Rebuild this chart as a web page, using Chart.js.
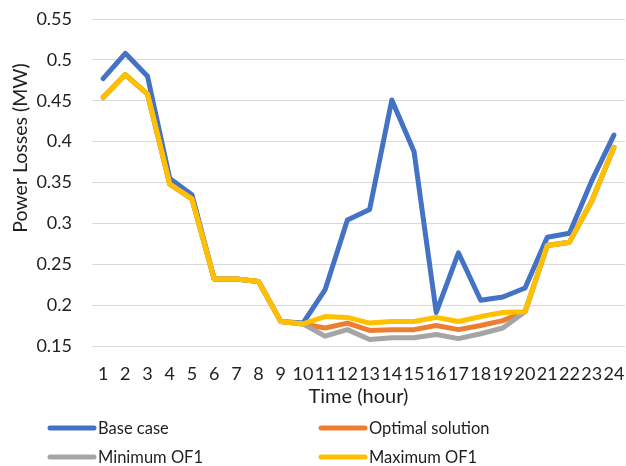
<!DOCTYPE html>
<html>
<head>
<meta charset="utf-8">
<script src="https://cdn.jsdelivr.net/npm/chart.js@4/dist/chart.umd.min.js"></script>
<style>
  body { margin: 0; background: #fff; }
  canvas { display: block; }
</style>
</head>
<body>
<canvas id="lossChart" width="626" height="466"></canvas>
<script>
// data
var hours = ["1","2","3","4","5","6","7","8","9","10","11","12","13","14","15","16","17","18","19","20","21","22","23","24"];
var baseCase = [0.477,0.508,0.480,0.355,0.335,0.232,0.232,0.229,0.180,0.178,0.219,0.304,0.317,0.451,0.388,0.191,0.264,0.206,0.210,0.221,0.283,0.288,0.352,0.408];
var optimalSolution = [0.454,0.482,0.458,0.348,0.330,0.232,0.232,0.229,0.180,0.177,0.172,0.178,0.169,0.170,0.170,0.175,0.170,0.175,0.181,0.192,0.273,0.277,0.327,0.393];
var minimumOF1 = [0.454,0.482,0.458,0.348,0.330,0.232,0.232,0.229,0.180,0.177,0.162,0.170,0.158,0.160,0.160,0.164,0.159,0.165,0.172,0.192,0.273,0.277,0.327,0.393];
var maximumOF1 = [0.454,0.482,0.458,0.348,0.330,0.232,0.232,0.229,0.180,0.177,0.186,0.185,0.178,0.180,0.180,0.185,0.180,0.186,0.191,0.192,0.273,0.277,0.327,0.393];
var yTicks = [0.15,0.2,0.25,0.3,0.35,0.4,0.45,0.5,0.55];

var textColor = '#1f1f1f';
var fontFamily = 'Lato, sans-serif';

function line(label, data, color, order) {
  return {
    label: label,
    data: data,
    borderColor: color,
    backgroundColor: color,
    borderWidth: 5,
    pointRadius: 0,
    tension: 0,
    borderJoinStyle: 'round',
    borderCapStyle: 'round',
    order: order
  };
}

// y title + 2x2 legend drawn by hand (Excel layout)
var extraText = {
  id: 'extraText',
  afterDraw: function(chart) {
    var ctx = chart.ctx;
    ctx.save();
    ctx.fillStyle = textColor;
    ctx.font = '19.5px ' + fontFamily;
    ctx.textAlign = 'center';
    ctx.textBaseline = 'middle';
    ctx.translate(21, 148);
    ctx.rotate(-Math.PI / 2);
    ctx.fillText('Power Losses (MW)', 0, 0);
    ctx.restore();

    ctx.save();
    ctx.font = '16.5px ' + fontFamily;
    ctx.textBaseline = 'middle';
    ctx.textAlign = 'left';
    chart.data.datasets.forEach(function(ds, i) {
      var x = (i % 2) ? 321 : 50;
      var y = (i < 2) ? 428 : 457;
      ctx.strokeStyle = ds.borderColor;
      ctx.lineWidth = 5;
      ctx.lineCap = 'round';
      ctx.beginPath();
      ctx.moveTo(x, y);
      ctx.lineTo(x + 44, y);
      ctx.stroke();
      ctx.fillStyle = textColor;
      ctx.fillText(ds.label, x + 48, y + 1);
    });
    ctx.restore();
  }
};

var ctx = document.getElementById('lossChart').getContext('2d');
var lossChart = new Chart(ctx, {
  type: 'line',
  data: {
    labels: hours,
    datasets: [
      line('Base case', baseCase, '#4472C4', 3),
      line('Optimal solution', optimalSolution, '#ED7D31', 2),
      line('Minimum OF1', minimumOF1, '#A5A5A5', 1),
      line('Maximum OF1', maximumOF1, '#FFC000', 0)
    ]
  },
  options: {
    responsive: false,
    animation: false,
    layout: { padding: { top: 19, left: 0, right: 1, bottom: 53 } },
    plugins: {
      legend: { display: false },
      tooltip: { enabled: false }
    },
    scales: {
      x: {
        offset: true,
        grid: { display: false, drawTicks: false },
        border: { display: false },
        ticks: {
          autoSkip: false, maxRotation: 0, minRotation: 0, padding: 17,
          color: textColor, font: { family: fontFamily, size: 18 }
        },
        title: {
          display: true, text: 'Time (hour)', color: textColor,
          font: { family: fontFamily, size: 20 }, padding: { top: 0, bottom: 4 }
        },
        afterFit: function(scale) {
          scale.height = 67;
          scale.paddingLeft = 0;
          scale.paddingRight = 0;
        }
      },
      y: {
        min: 0.15,
        max: 0.55,
        grid: { color: '#D9D9D9', lineWidth: 1, drawTicks: false },
        border: { display: false },
        afterBuildTicks: function(scale) {
          scale.ticks = yTicks.map(function(v) { return { value: v }; });
        },
        ticks: {
          padding: 20,
          color: textColor,
          font: { family: fontFamily, size: 18 },
          callback: function(v) { return String(+Number(v).toFixed(2)); }
        },
        afterFit: function(scale) {
          scale.width = 92;
          scale.paddingTop = 0;
          scale.paddingBottom = 0;
        }
      }
    }
  },
  plugins: [extraText]
});
</script>
</body>
</html>
